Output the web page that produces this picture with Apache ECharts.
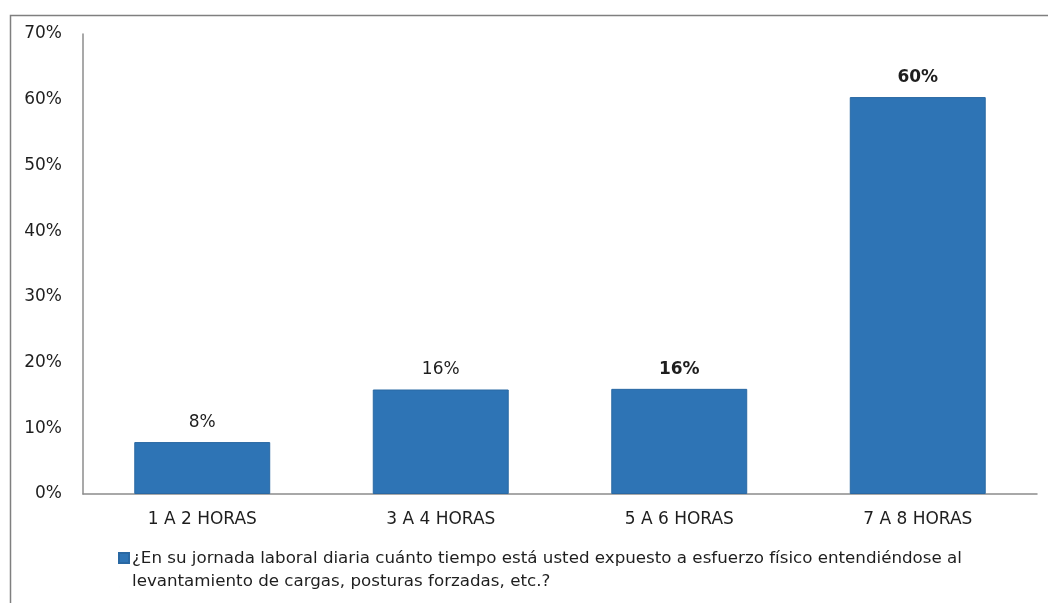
<!DOCTYPE html>
<html>
<head>
<meta charset="utf-8">
<script src="https://cdn.jsdelivr.net/npm/echarts@6/dist/echarts.min.js"></script>
<style>html,body{margin:0;padding:0;background:#fff;}#c{width:1048px;height:603px;}</style>
</head>
<body>
<div id="c"></div>
<script>
const categories = ['1 A 2 HORAS', '3 A 4 HORAS', '5 A 6 HORAS', '7 A 8 HORAS'];
const values = [7.9, 15.9, 16.0, 60.4];
const boldLabel = [false, false, true, true];
const seriesName = '¿En su jornada laboral diaria cuánto tiempo está usted expuesto a esfuerzo físico entendiéndose al levantamiento de cargas, posturas forzadas, etc.?';
const yTicks = [0, 10, 20, 30, 40, 50, 60, 70];

const chart = echarts.init(document.getElementById('c'));
chart.setOption({
  animation: false,
  backgroundColor: '#fff',
  graphic: [{
    type: 'rect', left: 8, top: 13,
    shape: { width: 1045, height: 600 },
    style: { fill: 'none', stroke: '#7f7f7f', lineWidth: 1.5 },
    silent: true
  }],
  grid: { left: 83, right: 11, top: 34, bottom: 109 },
  legend: {
    left: 118, top: 547, padding: 0,
    itemWidth: 10, itemHeight: 34, itemGap: 0,
    icon: 'path://M0,0H10V10H0Z M0,34L0.01,34',
    textStyle: { fontFamily: 'DejaVu Sans', fontSize: 16.7, color: '#1e1e1e', lineHeight: 23, padding: [0,0,0,-2] },
    formatter: name => name.replace(' levantamiento', '\nlevantamiento'),
    data: [seriesName]
  },
  xAxis: {
    type: 'category', data: categories,
    axisLine: { lineStyle: { color: '#8c8c8c', width: 1.5 } },
    axisTick: { show: false },
    axisLabel: { fontFamily: 'DejaVu Sans', fontSize: 17, color: '#1e1e1e', margin: 17 }
  },
  yAxis: {
    type: 'value', min: 0, max: 70, interval: 10,
    axisLine: { show: true, lineStyle: { color: '#8c8c8c', width: 1.5 } },
    axisTick: { show: false },
    splitLine: { show: false },
    axisLabel: { fontFamily: 'DejaVu Sans', fontSize: 17, color: '#1e1e1e', margin: 21, padding: [4, 0, 0, 0], formatter: v => v + '%' }
  },
  series: [{
    name: seriesName, type: 'bar',
    barCategoryGap: '43%',
    data: values.map((v, i) => ({
      value: v,
      label: { fontWeight: boldLabel[i] ? 'bold' : 'normal' }
    })),
    itemStyle: { color: '#2E74B5', borderColor: '#2968A3', borderWidth: 1 },
    label: {
      show: true, position: 'top', distance: 11,
      fontFamily: 'DejaVu Sans', fontSize: 17, color: '#1e1e1e',
      formatter: p => Math.round(p.value) + '%'
    }
  }]
});
</script>
</body>
</html>
